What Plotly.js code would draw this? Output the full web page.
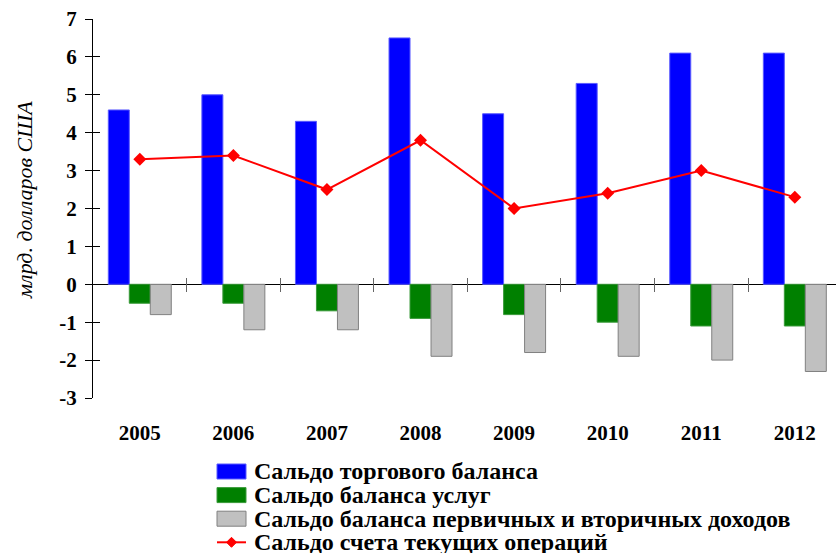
<!DOCTYPE html>
<html>
<head>
<meta charset="utf-8">
<script src="https://cdn.plot.ly/plotly-3.0.1.min.js"></script>
<style>html,body{margin:0;padding:0;overflow:hidden;background:#fff}</style>
</head>
<body>
<div id="chart" style="width:836px;height:553px"></div>
<script>
const years = ['2005','2006','2007','2008','2009','2010','2011','2012'];
const tradeBalance = [4.6, 5.0, 4.3, 6.5, 4.5, 5.3, 6.1, 6.1];
const servicesBalance = [-0.5, -0.5, -0.7, -0.9, -0.8, -1.0, -1.1, -1.1];
const incomeBalance = [-0.8, -1.2, -1.2, -1.9, -1.8, -1.9, -2.0, -2.3];
const currentAccount = [3.3, 3.4, 2.5, 3.8, 2.0, 2.4, 3.0, 2.3];
const yTickValues = [-3, -2, -1, 0, 1, 2, 3, 4, 5, 6, 7];
const yTickLabels = ['-3','-2','-1','0','1','2','3','4','5','6','7'];
const seriesNames = [
  'Сальдо торгового баланса',
  'Сальдо баланса услуг',
  'Сальдо баланса первичных и вторичных доходов',
  'Сальдо счета текущих операций'
];
const seriesColors = ['#0000FF', '#008000', '#C0C0C0', '#FF0000'];
const seriesEdges = ['#5a5aff', '#3a9a3a', '#808080', '#FF0000'];
const yTitle = 'млрд. долларов США';

const serif = 'Liberation Serif';

const W = 836, H = 553;
const M = {l: 93, r: 0, t: 19, b: 155};
const plotW = W - M.l - M.r, plotH = H - M.t - M.b;
const px = x => (x - M.l) / plotW;          // pixel -> paper x
const py = y => (H - M.b - y) / plotH;      // pixel -> paper y

const traces = [0, 1, 2].map(i => ({
  type: 'bar', x: years, y: [tradeBalance, servicesBalance, incomeBalance][i],
  name: seriesNames[i], showlegend: false,
  marker: {color: seriesColors[i], line: {color: seriesEdges[i], width: 1}}
}));
traces.push({type:'scatter', mode:'lines+markers', x: years, y: currentAccount,
  name: seriesNames[3], showlegend: false,
  line:{color: seriesColors[3], width:2},
  marker:{symbol:'diamond', size:10, color: seriesColors[3]}});
traces.push({type:'scatter', x:[0], y:[0], xaxis:'x2', yaxis:'y2', mode:'markers',
  marker:{opacity:0}, showlegend:false, hoverinfo:'skip'});

// manual legend (tight row spacing as in the reference)
const legTop = 471.5, legStep = 23.6, symL = 217, symR = 246, textX = 252;
const annotations = seriesNames.map((name, i) => ({
  xref:'paper', yref:'paper', x: px(textX), y: py(legTop + i*legStep),
  xanchor:'left', yanchor:'middle', showarrow:false, text: name,
  font:{family: serif, size: 24, weight:'bold', color:'#000'}
}));
annotations.push({
  xref:'paper', yref:'paper', x: px(25), y: py(200), textangle: -90,
  xanchor:'center', yanchor:'middle', showarrow:false, text: yTitle,
  font:{family: serif, size: 22, style:'italic', color:'#000'}
});
const shapes = [];
for (let i = 0; i < 3; i++) {
  const cy = legTop + i*legStep;
  shapes.push({type:'rect', xref:'paper', yref:'paper',
    x0: px(symL), x1: px(symR), y0: py(cy - 7.5), y1: py(cy + 7.5),
    fillcolor: seriesColors[i], line:{color: seriesEdges[i], width:1}});
}
{
  const cy = legTop + 3*legStep;
  shapes.push({type:'line', xref:'paper', yref:'paper',
    x0: px(symL), x1: px(symR), y0: py(cy), y1: py(cy),
    line:{color: seriesColors[3], width:2}});
  const cx = (symL + symR) / 2, d = 5;
  shapes.push({type:'path', xref:'paper', yref:'paper',
    path: `M${px(cx-d)},${py(cy)} L${px(cx)},${py(cy-d)} L${px(cx+d)},${py(cy)} L${px(cx)},${py(cy+d)} Z`,
    fillcolor: seriesColors[3], line:{color: seriesColors[3], width:1}});
}

const layout = {
  width: W, height: H,
  margin: M,
  paper_bgcolor: '#fff', plot_bgcolor: '#fff',
  barmode: 'group', bargap: 0.327, bargroupgap: 0,
  font: {family: serif, color: '#000'},
  showlegend: false,
  xaxis: {
    type: 'category', range: [-0.5, 7.44],
    showline: false, showgrid: false, zeroline: false, ticks: '',
    tickfont: {family: serif, size: 21, weight: 'bold', color: '#000'},
    ticklabelstandoff: 20
  },
  xaxis2: {
    overlaying: 'x', anchor: 'free', position: 3/10 + 7/plotH,
    range: [-0.5, 7.44], showline: false, showgrid: false, zeroline: false,
    ticks: 'outside', ticklen: 14, tickwidth: 1, tickcolor: '#666',
    tickvals: years.map((_, i) => i + 0.5), showticklabels: false
  },
  yaxis: {
    range: [-3, 7], tickvals: yTickValues, ticktext: yTickLabels, showgrid: false,
    zeroline: true, zerolinecolor: '#000', zerolinewidth: 1,
    showline: true, linecolor: '#000', linewidth: 1,
    ticks: 'outside', ticklen: 7, tickcolor: '#000',
    tickfont: {family: serif, size: 21, weight: 'bold', color: '#000'},
    ticklabelstandoff: 4
  },
  yaxis2: {
    overlaying: 'y', anchor: 'x', range: [-3, 7], tickvals: yTickValues,
    showgrid: false, zeroline: false, showline: false,
    ticks: 'inside', ticklen: 7, tickcolor: '#000', showticklabels: false
  },
  annotations: annotations,
  shapes: shapes
};

Plotly.newPlot('chart', traces, layout, {displayModeBar: false, staticPlot: true});
</script>
</body>
</html>
